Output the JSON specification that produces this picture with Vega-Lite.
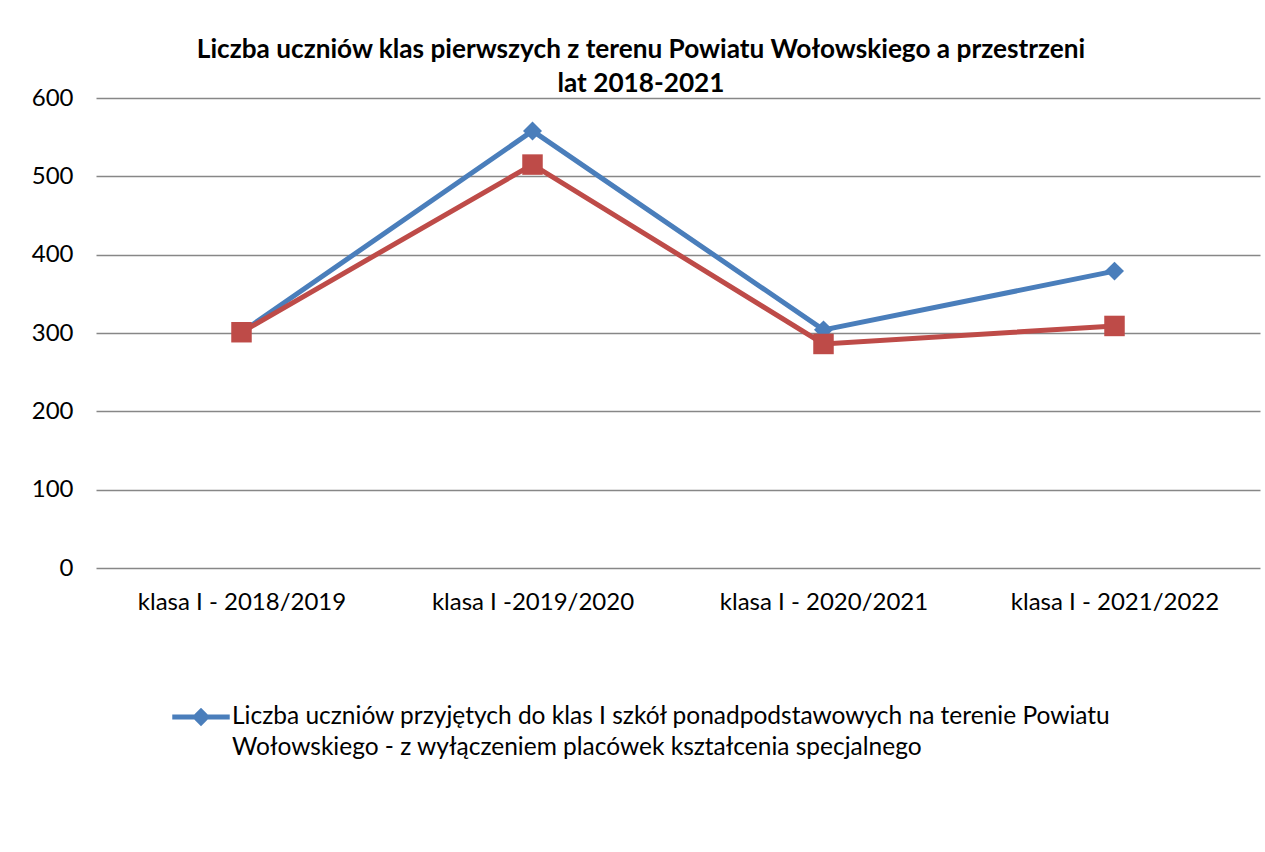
{
  "$schema": "https://vega.github.io/schema/vega-lite/v6.json",
  "width": 1164,
  "height": 470,
  "autosize": "none",
  "padding": {"left": 96, "top": 98, "right": 5, "bottom": 284},
  "background": "white",
  "title": {
    "text": ["Liczba uczniów  klas pierwszych z terenu Powiatu Wołowskiego a przestrzeni", "lat  2018-2021"],
    "anchor": "middle",
    "dx": -37,
    "offset": -11,
    "font": "Lato",
    "fontSize": 26.2,
    "fontWeight": "bold",
    "color": "black",
    "lineHeight": 34
  },
  "data": {
    "values": [
      {"klasa": "klasa I - 2018/2019", "seria": "A", "liczba": 301},
      {"klasa": "klasa I -2019/2020", "seria": "A", "liczba": 558},
      {"klasa": "klasa I - 2020/2021", "seria": "A", "liczba": 304},
      {"klasa": "klasa I - 2021/2022", "seria": "A", "liczba": 379},
      {"klasa": "klasa I - 2018/2019", "seria": "B", "liczba": 301},
      {"klasa": "klasa I -2019/2020", "seria": "B", "liczba": 515},
      {"klasa": "klasa I - 2020/2021", "seria": "B", "liczba": 286},
      {"klasa": "klasa I - 2021/2022", "seria": "B", "liczba": 309}
    ]
  },
  "encoding": {
    "x": {
      "field": "klasa",
      "type": "ordinal",
      "sort": null,
      "scale": {"type": "point", "padding": 0.5},
      "axis": {
        "title": null,
        "labelAngle": 0,
        "domain": false,
        "ticks": false,
        "grid": false,
        "labelFont": "Lato",
        "labelFontSize": 24,
        "labelColor": "black",
        "labelLimit": 400,
        "labelPadding": 22
      }
    },
    "y": {
      "field": "liczba",
      "type": "quantitative",
      "scale": {"domain": [0, 600], "nice": false},
      "axis": {
        "title": null,
        "values": [0, 100, 200, 300, 400, 500, 600],
        "domain": false,
        "ticks": false,
        "grid": true,
        "gridColor": "#878787",
        "gridWidth": 1.5,
        "labelFont": "Lato",
        "labelFontSize": 24,
        "labelColor": "black",
        "labelPadding": 23
      }
    },
    "color": {
      "field": "seria",
      "type": "nominal",
      "scale": {"domain": ["A", "B"], "range": ["#4A7EBB", "#BE4B48"]},
      "legend": {
        "values": ["A"],
        "title": null,
        "orient": "none",
        "legendX": 76,
        "legendY": 590,
        "symbolType": "M-1,-0.09L1,-0.09L1,0.09L-1,0.09Z M0,-0.3L0.3,0L0,0.3L-0.3,0Z",
        "symbolSize": 3300,
        "symbolFillColor": "#4A7EBB",
        "symbolStrokeColor": "#4A7EBB",
        "symbolStrokeWidth": 0,
        "labelFont": "Lato",
        "labelFontSize": 24.5,
        "labelColor": "black",
        "labelLimit": 2000,
        "labelOffset": 2,
        "labelExpr": "['Liczba uczniów przyjętych do klas I szkół ponadpodstawowych na terenie Powiatu', 'Wołowskiego - z wyłączeniem placówek kształcenia specjalnego']",
        "encode": {
          "labels": {"update": {"lineHeight": {"value": 31}}},
          "symbols": {"update": {"fill": {"value": "#4A7EBB"}, "shape": {"value": "M-1,-0.09L1,-0.09L1,0.09L-1,0.09Z M0,-0.32L0.32,0L0,0.32L-0.32,0Z"}, "size": {"value": 3300}}}
        }
      }
    }
  },
  "layer": [
    {"mark": {"type": "line", "strokeWidth": 5}},
    {
      "transform": [{"filter": "datum.seria === 'A'"}],
      "mark": {"type": "point", "filled": true, "opacity": 1, "shape": "diamond", "size": 360}
    },
    {
      "transform": [{"filter": "datum.seria === 'B'"}],
      "mark": {"type": "point", "filled": true, "opacity": 1, "shape": "square", "size": 420}
    }
  ],
  "config": {"view": {"stroke": null}}
}
